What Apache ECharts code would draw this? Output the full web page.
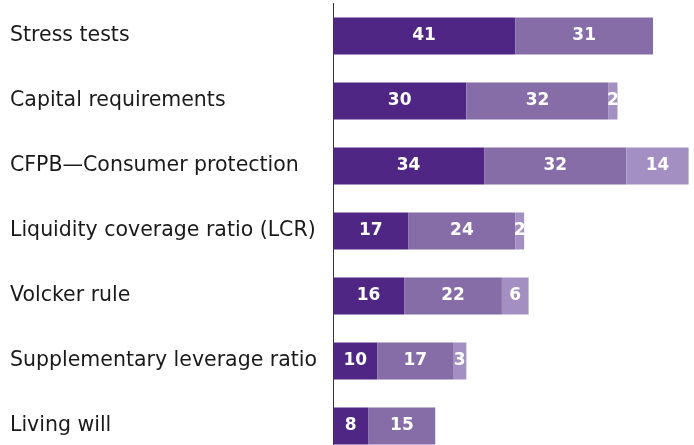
<!DOCTYPE html>
<html>
<head>
<meta charset="utf-8">
<script src="https://cdn.jsdelivr.net/npm/echarts@6/dist/echarts.min.js"></script>
<style>
  html, body { margin: 0; padding: 0; background: #fff; }
  #chart { width: 694px; height: 445px; }
</style>
</head>
<body>
<div id="chart"></div>
<script>
const categories = [
  "Stress tests",
  "Capital requirements",
  "CFPB\u2014Consumer protection",
  "Liquidity coverage ratio (LCR)",
  "Volcker rule",
  "Supplementary leverage ratio",
  "Living will"
];
const dark = [41, 30, 34, 17, 16, 10, 8];
const mid = [31, 32, 32, 24, 22, 17, 15];
const light = [null, 2, 14, 2, 6, 3, null];

const colors = ["#4f2683", "#866da8", "#a38fc1"];

const chart = echarts.init(document.getElementById("chart"));

function seriesOf(name, data, color) {
  return {
    name: name,
    type: "bar",
    stack: "total",
    data: data,
    barWidth: 37,
    itemStyle: { color: color },
    label: {
      show: true,
      position: "inside",
      color: "#fff",
      fontFamily: "DejaVu Sans",
      fontWeight: "bold",
      fontSize: 17,
      formatter: p => (p.value == null ? "" : p.value)
    },
    emphasis: { disabled: true }
  };
}

chart.setOption({
  animation: false,
  grid: { left: 333, right: 5.4, top: 3.5, height: 455, outerBoundsMode: "none", containLabel: false },
  xAxis: {
    type: "value",
    min: 0,
    max: 80,
    show: false
  },
  yAxis: {
    type: "category",
    data: categories,
    inverse: true,
    axisLine: { show: true, lineStyle: { color: "#333", width: 1 } },
    axisTick: { show: false },
    axisLabel: {
      align: "left",
      margin: 323,
      color: "#1a1a1a",
      fontFamily: "DejaVu Sans",
      fontSize: 20.5
    }
  },
  series: [
    seriesOf("A", dark, colors[0]),
    seriesOf("B", mid, colors[1]),
    seriesOf("C", light, colors[2])
  ]
});
</script>
</body>
</html>
